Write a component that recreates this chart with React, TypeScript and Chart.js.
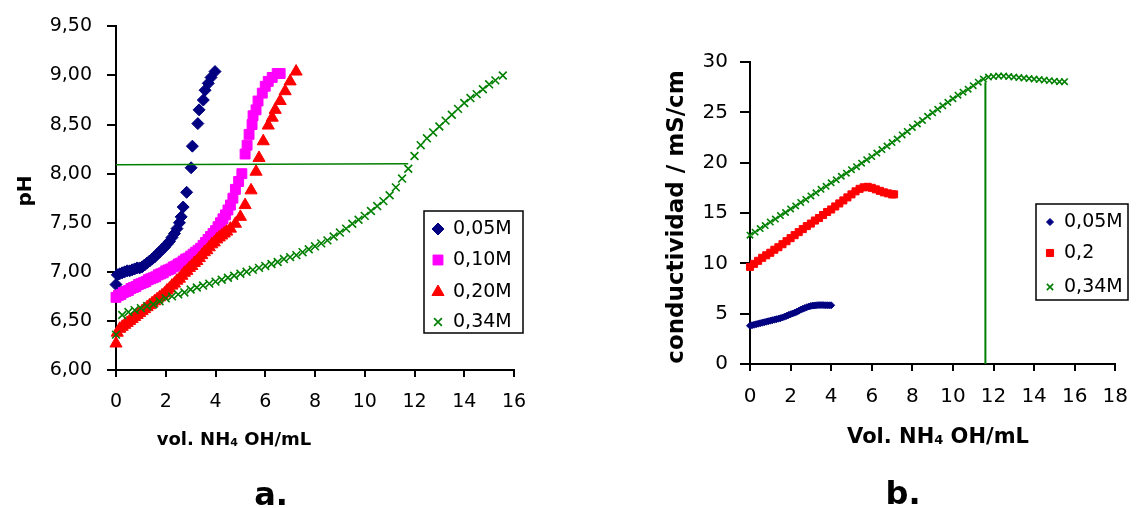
import React, { useEffect, useRef } from 'react';
import { Chart, registerables } from 'chart.js';
import { drawPoint } from 'chart.js/helpers';

Chart.register(...registerables);

// ---------------- Chart a: pH vs vol. NH4OH ----------------
const phX_005 = [0, 0.05, 0.15, 0.25, 0.35, 0.45, 0.55, 0.65, 0.75, 0.85, 0.95, 1.05, 1.15, 1.25, 1.35, 1.45, 1.55, 1.65, 1.75, 1.85, 1.95, 2.05, 2.15, 2.25, 2.35, 2.45, 2.55, 2.62, 2.7, 2.84, 3.02, 3.07, 3.29, 3.34, 3.51, 3.58, 3.71, 3.82, 3.98];
const phY_005 = [6.87, 6.97, 6.98, 6.99, 7.0, 7.01, 7.01, 7.02, 7.03, 7.04, 7.04, 7.05, 7.07, 7.09, 7.11, 7.13, 7.15, 7.18, 7.2, 7.23, 7.25, 7.28, 7.31, 7.35, 7.39, 7.44, 7.5, 7.56, 7.66, 7.81, 8.06, 8.28, 8.51, 8.65, 8.75, 8.85, 8.92, 8.98, 9.04];

const phX_010 = [0, 0.1, 0.2, 0.3, 0.4, 0.5, 0.6, 0.7, 0.8, 0.9, 1.0, 1.1, 1.2, 1.3, 1.4, 1.5, 1.6, 1.7, 1.8, 1.9, 2.0, 2.1, 2.2, 2.3, 2.4, 2.5, 2.6, 2.7, 2.8, 2.9, 3.0, 3.1, 3.2, 3.3, 3.4, 3.5, 3.6, 3.7, 3.8, 3.9, 4.0, 4.1, 4.2, 4.3, 4.4, 4.5, 4.6, 4.7, 4.8, 4.93, 5.06, 5.19, 5.27, 5.35, 5.47, 5.51, 5.63, 5.71, 5.88, 6.0, 6.12, 6.28, 6.48, 6.6];
const phY_010 = [6.74, 6.76, 6.77, 6.79, 6.8, 6.81, 6.83, 6.84, 6.85, 6.87, 6.88, 6.89, 6.9, 6.92, 6.93, 6.94, 6.95, 6.97, 6.98, 6.99, 7.01, 7.02, 7.03, 7.05, 7.06, 7.08, 7.09, 7.11, 7.13, 7.14, 7.16, 7.18, 7.2, 7.22, 7.24, 7.27, 7.3, 7.33, 7.36, 7.39, 7.42, 7.46, 7.5, 7.54, 7.58, 7.63, 7.68, 7.75, 7.84, 7.92, 8.0, 8.2, 8.29, 8.4, 8.5, 8.59, 8.65, 8.74, 8.82, 8.89, 8.94, 8.98, 9.02, 9.02];

const phX_020 = [0, 0.05, 0.15, 0.25, 0.35, 0.45, 0.55, 0.65, 0.75, 0.85, 0.95, 1.05, 1.15, 1.25, 1.35, 1.45, 1.55, 1.65, 1.75, 1.85, 1.95, 2.05, 2.15, 2.25, 2.35, 2.45, 2.55, 2.65, 2.75, 2.85, 2.95, 3.05, 3.15, 3.25, 3.35, 3.45, 3.55, 3.65, 3.75, 3.85, 3.95, 4.05, 4.15, 4.25, 4.35, 4.45, 4.6, 4.8, 5.0, 5.19, 5.43, 5.63, 5.75, 5.92, 6.12, 6.28, 6.4, 6.6, 6.8, 7.0, 7.24];
const phY_020 = [6.27, 6.38, 6.42, 6.44, 6.46, 6.48, 6.5, 6.52, 6.54, 6.56, 6.58, 6.6, 6.62, 6.64, 6.66, 6.68, 6.7, 6.72, 6.74, 6.76, 6.78, 6.81, 6.83, 6.86, 6.88, 6.91, 6.93, 6.96, 6.99, 7.01, 7.04, 7.06, 7.09, 7.11, 7.14, 7.17, 7.2, 7.22, 7.25, 7.28, 7.3, 7.33, 7.35, 7.37, 7.39, 7.41, 7.44, 7.49, 7.56, 7.68, 7.83, 8.02, 8.16, 8.33, 8.49, 8.57, 8.65, 8.74, 8.84, 8.94, 9.04];

const phX_034 = [0, 0.25, 0.5, 0.75, 1.0, 1.25, 1.5, 1.75, 2.0, 2.25, 2.5, 2.75, 3.0, 3.25, 3.5, 3.75, 4.0, 4.25, 4.5, 4.75, 5.0, 5.25, 5.5, 5.75, 6.0, 6.25, 6.5, 6.75, 7.0, 7.25, 7.5, 7.75, 8.0, 8.25, 8.5, 8.75, 9.0, 9.25, 9.5, 9.75, 10.0, 10.25, 10.5, 10.75, 11.0, 11.25, 11.5, 11.75, 12.0, 12.25, 12.5, 12.75, 13.0, 13.25, 13.5, 13.75, 14.0, 14.25, 14.5, 14.75, 15.0, 15.25, 15.55];
const phY_034 = [6.36, 6.56, 6.59, 6.61, 6.63, 6.65, 6.67, 6.7, 6.73, 6.75, 6.77, 6.79, 6.82, 6.84, 6.86, 6.88, 6.9, 6.92, 6.94, 6.96, 6.98, 7.0, 7.02, 7.04, 7.06, 7.08, 7.1, 7.13, 7.15, 7.17, 7.2, 7.23, 7.26, 7.29, 7.32, 7.36, 7.4, 7.44, 7.49, 7.53, 7.57, 7.62, 7.67, 7.72, 7.78, 7.86, 7.95, 8.05, 8.18, 8.29, 8.36, 8.42, 8.48, 8.54, 8.6, 8.66, 8.72, 8.77, 8.81, 8.86, 8.91, 8.95, 9.0];

const phGuideX = [0, 11.75];
const phGuideY = [8.09, 8.1];

// ---------------- Chart b: conductividad vs Vol. NH4OH ----------------
const kX_005 = [0, 0.1, 0.2, 0.3, 0.4, 0.5, 0.6, 0.7, 0.8, 0.9, 1.0, 1.1, 1.2, 1.3, 1.4, 1.5, 1.6, 1.7, 1.8, 1.9, 2.0, 2.1, 2.2, 2.3, 2.4, 2.5, 2.6, 2.7, 2.8, 2.9, 3.0, 3.1, 3.2, 3.3, 3.4, 3.5, 3.6, 3.7, 3.8, 3.9, 4.0];
const kY_005 = [3.8, 3.85, 3.9, 3.95, 4.0, 4.05, 4.1, 4.15, 4.2, 4.25, 4.3, 4.35, 4.4, 4.45, 4.5, 4.55, 4.62, 4.7, 4.78, 4.86, 4.94, 5.02, 5.1, 5.18, 5.28, 5.4, 5.48, 5.56, 5.64, 5.71, 5.77, 5.8, 5.82, 5.84, 5.85, 5.85, 5.85, 5.84, 5.84, 5.83, 5.83];

const kX_02 = [0, 0.2, 0.4, 0.6, 0.8, 1.0, 1.2, 1.4, 1.6, 1.8, 2.0, 2.2, 2.4, 2.6, 2.8, 3.0, 3.2, 3.4, 3.6, 3.8, 4.0, 4.2, 4.4, 4.6, 4.8, 5.0, 5.2, 5.4, 5.6, 5.8, 6.0, 6.2, 6.4, 6.6, 6.8, 7.0, 7.1];
const kY_02 = [9.65, 9.95, 10.25, 10.55, 10.8, 11.05, 11.35, 11.6, 11.9, 12.2, 12.5, 12.8, 13.1, 13.4, 13.7, 13.95, 14.25, 14.5, 14.8, 15.1, 15.35, 15.65, 15.95, 16.25, 16.55, 16.85, 17.15, 17.4, 17.55, 17.6, 17.5, 17.35, 17.2, 17.05, 16.95, 16.85, 16.85];

const kX_034 = [0, 0.25, 0.5, 0.75, 1.0, 1.25, 1.5, 1.75, 2.0, 2.25, 2.5, 2.75, 3.0, 3.25, 3.5, 3.75, 4.0, 4.25, 4.5, 4.75, 5.0, 5.25, 5.5, 5.75, 6.0, 6.25, 6.5, 6.75, 7.0, 7.25, 7.5, 7.75, 8.0, 8.25, 8.5, 8.75, 9.0, 9.25, 9.5, 9.75, 10.0, 10.25, 10.5, 10.75, 11.0, 11.25, 11.5, 11.75, 12.0, 12.25, 12.5, 12.75, 13.0, 13.25, 13.5, 13.75, 14.0, 14.25, 14.5, 14.75, 15.0, 15.25, 15.5];
const kY_034 = [12.8, 13.1, 13.45, 13.75, 14.1, 14.4, 14.75, 15.05, 15.4, 15.7, 16.05, 16.35, 16.7, 17.0, 17.35, 17.65, 18.0, 18.3, 18.65, 18.95, 19.3, 19.6, 19.95, 20.3, 20.6, 20.95, 21.3, 21.65, 22.0, 22.35, 22.75, 23.1, 23.5, 23.85, 24.2, 24.6, 24.95, 25.3, 25.65, 26.0, 26.35, 26.7, 27.0, 27.3, 27.65, 28.0, 28.3, 28.5, 28.55, 28.6, 28.6, 28.55, 28.5, 28.45, 28.4, 28.35, 28.3, 28.25, 28.2, 28.15, 28.1, 28.05, 28.05];

const kGuideX = [11.6, 11.6];
const kGuideY = [0, 28.0];

// ---------------- helpers ----------------
const FONT = "'DejaVu Sans', sans-serif";
const NAVY = '#000080';
const MAGENTA = '#FF00FF';
const RED = '#FF0000';
const GREEN = '#008000';

const pts = (xs: number[], ys: number[]) => xs.map((x, i) => ({ x, y: ys[i] }));

type Part = { t: string; sub?: boolean };

function drawRich(ctx: CanvasRenderingContext2D, cx: number, baseline: number, size: number, parts: Part[]) {
  ctx.save();
  ctx.fillStyle = '#000';
  ctx.textAlign = 'left';
  ctx.textBaseline = 'alphabetic';
  const subSize = Math.round(size * 0.62);
  const widths = parts.map((p) => {
    ctx.font = `bold ${p.sub ? subSize : size}px ${FONT}`;
    return ctx.measureText(p.t).width;
  });
  const total = widths.reduce((a, b) => a + b, 0);
  let x = cx - total / 2;
  parts.forEach((p, i) => {
    ctx.font = `bold ${p.sub ? subSize : size}px ${FONT}`;
    ctx.fillText(p.t, x, baseline + (p.sub ? 1 : 0));
    x += widths[i];
  });
  ctx.restore();
}

function drawRotated(ctx: CanvasRenderingContext2D, text: string, x: number, y: number, size: number) {
  ctx.save();
  ctx.translate(x, y);
  ctx.rotate(-Math.PI / 2);
  ctx.fillStyle = '#000';
  ctx.font = `bold ${size}px ${FONT}`;
  ctx.textAlign = 'center';
  ctx.textBaseline = 'alphabetic';
  ctx.fillText(text, 0, 0);
  ctx.restore();
}

type LegendCfg = { box: [number, number, number, number]; markerX: number; textX: number; ys: number[]; size: number };

function drawLegend(chart: any, cfg: LegendCfg) {
  const ctx: CanvasRenderingContext2D = chart.ctx;
  const items = chart.data.datasets.filter((d: any) => d.label);
  ctx.save();
  const [bx, by, bw, bh] = cfg.box;
  ctx.fillStyle = '#fff';
  ctx.fillRect(bx, by, bw, bh);
  ctx.lineWidth = 1.5;
  ctx.strokeStyle = '#000';
  ctx.strokeRect(bx, by, bw, bh);
  items.forEach((d: any, i: number) => {
    const y = cfg.ys[i];
    ctx.fillStyle = d.backgroundColor;
    ctx.strokeStyle = d.borderColor;
    ctx.lineWidth = d.pointBorderWidth;
    drawPoint(ctx, { pointStyle: d.pointStyle, radius: d.pointRadius, borderWidth: d.pointBorderWidth, rotation: 0 } as any, cfg.markerX, y);
    ctx.fillStyle = '#000';
    ctx.font = `${cfg.size}px ${FONT}`;
    ctx.textAlign = 'left';
    ctx.textBaseline = 'middle';
    ctx.fillText(d.label, cfg.textX, y);
  });
  ctx.restore();
}

function axisOpts(min: number, max: number, step: number, size: number, tickLen: number, pad: number, fit: (s: any) => void, fmt?: (v: number) => string) {
  return {
    type: 'linear' as const,
    min,
    max,
    ticks: {
      stepSize: step,
      autoSkip: false,
      maxRotation: 0,
      color: '#000',
      padding: pad,
      font: { family: FONT, size },
      callback: (v: any) => (fmt ? fmt(Number(v)) : String(v)),
    },
    grid: { drawOnChartArea: false, drawTicks: true, tickLength: tickLen, color: '#000', lineWidth: 2 },
    border: { display: true, color: '#000', width: 2 },
    afterFit: fit,
  };
}

const baseOpts = {
  responsive: false,
  animation: false as const,
  devicePixelRatio: 1,
  events: [] as any[],
};

export default function App() {
  const refA = useRef<HTMLCanvasElement>(null);
  const refB = useRef<HTMLCanvasElement>(null);

  useEffect(() => {
    const decorA = {
      id: 'decorA',
      afterDraw(chart: any) {
        const ctx = chart.ctx;
        drawRotated(ctx, 'pH', 31, 191, 20);
        drawRich(ctx, 234, 445, 18, [{ t: 'vol. NH' }, { t: '4', sub: true }, { t: ' OH/mL' }]);
        drawRich(ctx, 271, 505, 32, [{ t: 'a.' }]);
        drawLegend(chart, { box: [424, 211, 99, 122], markerX: 438, textX: 453, ys: [229, 260, 292, 322], size: 19 });
      },
    };
    const chartA = new Chart(refA.current!, {
      type: 'scatter',
      data: {
        datasets: [
          { label: '0,05M', data: pts(phX_005, phY_005), pointStyle: 'rectRot', pointRadius: 6, pointBorderWidth: 1, backgroundColor: NAVY, borderColor: NAVY, order: 4, clip: false } as any,
          { label: '0,10M', data: pts(phX_010, phY_010), pointStyle: 'rect', pointRadius: 7, pointBorderWidth: 1, backgroundColor: MAGENTA, borderColor: MAGENTA, order: 3, clip: false } as any,
          { label: '0,20M', data: pts(phX_020, phY_020), pointStyle: 'triangle', pointRadius: 7, pointBorderWidth: 1, backgroundColor: RED, borderColor: RED, order: 2, clip: false } as any,
          { label: '0,34M', data: pts(phX_034, phY_034), pointStyle: 'crossRot', pointRadius: 5.5, pointBorderWidth: 1.6, backgroundColor: GREEN, borderColor: GREEN, order: 1, clip: false } as any,
          { data: pts(phGuideX, phGuideY), showLine: true, pointRadius: 0, borderColor: GREEN, borderWidth: 1.5, order: 0 } as any,
        ],
      },
      options: {
        ...baseOpts,
        layout: { padding: { left: 0, top: 22, right: 56, bottom: 0 } },
        plugins: { legend: { display: false }, tooltip: { enabled: false } },
        scales: {
          x: axisOpts(0, 16, 2, 19, 7, 14, (s: any) => { s.height = 138; }),
          y: axisOpts(6, 9.5, 0.5, 19, 9, 15, (s: any) => { s.width = 116; }, (v) => v.toFixed(2).replace('.', ',')),
        },
      } as any,
      plugins: [decorA],
    });

    const decorB = {
      id: 'decorB',
      afterDraw(chart: any) {
        const ctx = chart.ctx;
        drawRotated(ctx, 'conductividad / mS/cm', 113, 217, 23);
        drawRich(ctx, 368, 443, 21, [{ t: 'Vol. NH' }, { t: '4', sub: true }, { t: ' OH/mL' }]);
        drawRich(ctx, 333, 504, 32, [{ t: 'b.' }]);
        drawLegend(chart, { box: [466, 204, 92, 96], markerX: 480, textX: 494, ys: [222, 253, 287], size: 19 });
      },
    };
    const chartB = new Chart(refB.current!, {
      type: 'scatter',
      data: {
        datasets: [
          { label: '0,05M', data: pts(kX_005, kY_005), pointStyle: 'rectRot', pointRadius: 3.5, pointBorderWidth: 1, backgroundColor: NAVY, borderColor: NAVY, order: 3, clip: false } as any,
          { label: '0,2', data: pts(kX_02, kY_02), pointStyle: 'rect', pointRadius: 5, pointBorderWidth: 1, backgroundColor: RED, borderColor: RED, order: 2, clip: false } as any,
          { label: '0,34M', data: pts(kX_034, kY_034), pointStyle: 'crossRot', pointRadius: 4.5, pointBorderWidth: 1.6, backgroundColor: GREEN, borderColor: GREEN, order: 1, clip: false } as any,
          { data: pts(kGuideX, kGuideY), showLine: true, pointRadius: 0, borderColor: GREEN, borderWidth: 2, order: 0 } as any,
        ],
      },
      options: {
        ...baseOpts,
        layout: { padding: { left: 0, top: 62, right: 16, bottom: 0 } },
        plugins: { legend: { display: false }, tooltip: { enabled: false } },
        scales: {
          x: axisOpts(0, 18, 2, 20, 7, 14, (s: any) => { s.height = 144; }),
          y: axisOpts(0, 30, 5, 20, 10, 12, (s: any) => { s.width = 180; }),
        },
      } as any,
      plugins: [decorB],
    });

    return () => {
      chartA.destroy();
      chartB.destroy();
    };
  }, []);

  return (
    <div style={{ position: 'absolute', left: 0, top: 0, width: 1142, height: 508, background: '#fff' }}>
      <canvas ref={refA} width={570} height={508} style={{ position: 'absolute', left: 0, top: 0, width: 570, height: 508 }} />
      <canvas ref={refB} width={572} height={508} style={{ position: 'absolute', left: 570, top: 0, width: 572, height: 508 }} />
    </div>
  );
}
